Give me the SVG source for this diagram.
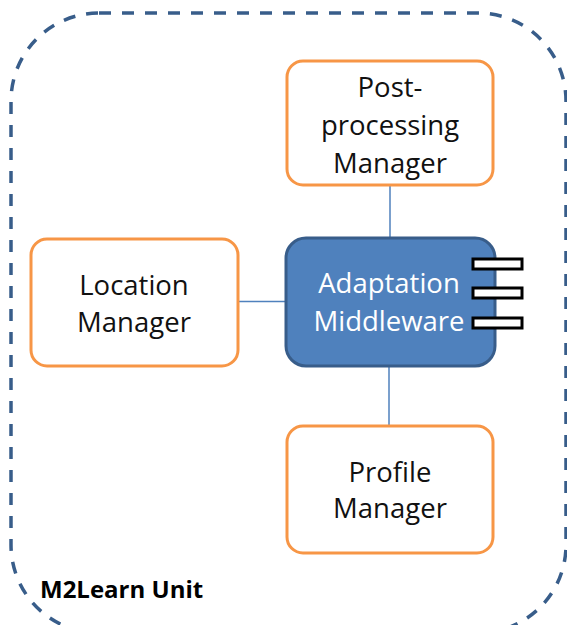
<svg xmlns="http://www.w3.org/2000/svg" width="567" height="625" viewBox="0 0 567 625">
<style>
.lbl{font-family:"Open Sans","Noto Sans","Liberation Sans",sans-serif;font-size:27.5px;text-anchor:middle;fill:#111}
.wht{fill:#ffffff}
.box{fill:#ffffff;stroke:#f79646;stroke-width:3}
.conn{stroke:#4f81bd;stroke-width:1.5;fill:none}
.port{fill:#ffffff;stroke:#000000;stroke-width:3}
</style>
<rect width="567" height="625" fill="#ffffff"/>
<g id="boundary">
<rect x="11" y="13" width="555" height="620" rx="88" ry="88" fill="none" stroke="#385d8a" stroke-width="3.5" stroke-dasharray="12 11"/>
<text x="40" y="598" style="font-family:'Open Sans','Noto Sans','Liberation Sans',sans-serif;font-size:24px;font-weight:700;fill:#000">M2Learn Unit</text>
</g>
<g id="connectors">
<line class="conn" x1="390" y1="186" x2="390" y2="237"/>
<line class="conn" x1="389" y1="367" x2="389" y2="425"/>
<line class="conn" x1="238" y1="301.5" x2="285" y2="301.5"/>
</g>
<g id="postprocessing">
<rect class="box" x="287" y="61" width="206" height="124" rx="16"/>
<text class="lbl" x="390" y="97">Post-</text>
<text class="lbl" x="390" y="135">processing</text>
<text class="lbl" x="390" y="173">Manager</text>
</g>
<g id="location">
<rect class="box" x="31" y="239" width="207" height="127" rx="16"/>
<text class="lbl" x="134" y="295">Location</text>
<text class="lbl" x="134" y="332">Manager</text>
</g>
<g id="adaptation">
<rect x="286" y="238" width="209" height="128" rx="20" fill="#4f81bd" stroke="#385d8a" stroke-width="3"/>
<text class="lbl wht" x="389" y="293">Adaptation</text>
<text class="lbl wht" x="389" y="331">Middleware</text>
<rect class="port" x="473" y="259" width="49" height="10"/>
<rect class="port" x="473" y="288" width="49" height="10"/>
<rect class="port" x="473" y="318" width="49" height="10"/>
</g>
<g id="profile">
<rect class="box" x="287" y="426" width="206" height="127" rx="16"/>
<text class="lbl" x="390" y="482">Profile</text>
<text class="lbl" x="390" y="518">Manager</text>
</g>
</svg>
